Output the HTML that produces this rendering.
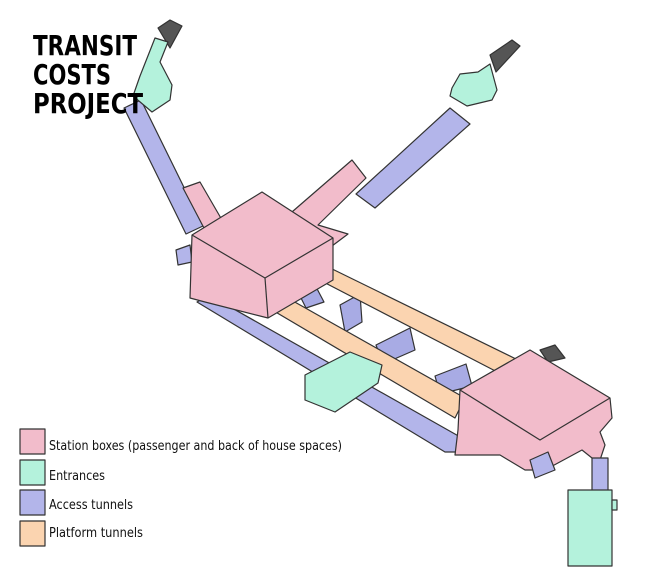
<!DOCTYPE html>
<html><head><meta charset="utf-8"><style>
html,body{margin:0;padding:0;background:#fff;}
svg{display:block;}
text{font-family:"DejaVu Sans Condensed","Liberation Sans",sans-serif;}
</style></head><body>
<svg width="655" height="578" viewBox="0 0 655 578" xmlns="http://www.w3.org/2000/svg">
<g stroke="#333" stroke-width="1.2" stroke-linejoin="round">
<!-- left access tunnel -->
<polygon points="124,108 141,100 203,226 186,234" fill="#b3b5ea"/>
<!-- right access tunnel -->
<polygon points="450,108 470,124 375,208 356,194" fill="#b3b5ea"/>
<!-- left entrance -->
<polygon points="158,28 170,20 182,26 170,48" fill="#555"/>
<polygon points="155,38 168,42 160,62 172,85 170,100 152,112 133,96 140,76" fill="#b4f2dc"/>
<!-- right entrance -->
<polygon points="490,55 512,40 520,46 496,72" fill="#555"/>
<polygon points="452,88 460,74 478,72 490,64 497,90 492,100 467,106 450,96" fill="#b4f2dc"/>
<!-- long lower blue tunnel -->
<polygon points="197,302 209,295 462,438 458,452 445,452" fill="#b3b5ea"/>
<!-- blue connectors -->
<polygon points="288,272 305,266 324,302 306,308" fill="#a8abe4"/>
<polygon points="340,305 360,294 362,322 345,332" fill="#a8abe4"/>
<polygon points="376,345 410,328 415,350 383,364" fill="#a8abe4"/>
<polygon points="435,376 466,364 472,386 440,394" fill="#a8abe4"/>
<!-- orange platform tunnels -->
<polygon points="308,274 322,264 518,360 505,376" fill="#fbd4b0"/>
<polygon points="262,304 277,292 465,398 455,418" fill="#fbd4b0"/>
<!-- upper station box -->
<polygon points="183,188 200,182 222,220 205,230" fill="#f2bccb"/>
<polygon points="285,218 352,160 366,178 318,225 348,234 332,246" fill="#f2bccb"/>
<polygon points="176,250 190,245 192,262 178,265" fill="#b3b5ea"/>
<polygon points="192,235 262,192 333,238 333,280 268,318 205,302 190,298" fill="#f2bccb"/>
<polyline points="192,235 265,278 333,238" fill="none"/>
<polyline points="265,278 268,318" fill="none"/>
<!-- middle entrance -->
<polygon points="305,375 350,352 382,365 378,383 335,412 305,400" fill="#b4f2dc"/>
<!-- lower station box -->
<polygon points="540,350 555,345 565,358 548,362" fill="#555"/>
<polygon points="460,390 530,350 610,398 612,418 600,432 605,445 600,460 592,458 582,450 545,470 525,470 500,455 455,455 458,430" fill="#f2bccb"/>
<polyline points="460,390 540,440 610,398" fill="none"/>
<polygon points="530,460 548,452 555,470 535,478" fill="#b3b5ea"/>
<polygon points="592,458 608,458 608,492 592,492" fill="#b3b5ea"/>
<polygon points="568,490 612,490 612,566 568,566" fill="#b4f2dc"/>
<rect x="612" y="500" width="5" height="10" fill="#b4f2dc"/>
<!-- legend -->
<rect x="20" y="429" width="25" height="25" fill="#f2bccb"/>
<rect x="20" y="460" width="25" height="25" fill="#b4f2dc"/>
<rect x="20" y="490" width="25" height="25" fill="#b3b5ea"/>
<rect x="20" y="521" width="25" height="25" fill="#fbd4b0"/>
</g>
<g font-size="13" fill="#111">
<text x="49" y="450" textLength="293" lengthAdjust="spacingAndGlyphs">Station boxes (passenger and back of house spaces)</text>
<text x="49" y="480" textLength="56" lengthAdjust="spacingAndGlyphs">Entrances</text>
<text x="49" y="509" textLength="84" lengthAdjust="spacingAndGlyphs">Access tunnels</text>
<text x="49" y="537" textLength="94" lengthAdjust="spacingAndGlyphs">Platform tunnels</text>
</g>
<g font-size="28" font-weight="bold" fill="#000">
<text x="33" y="55" textLength="104" lengthAdjust="spacingAndGlyphs">TRANSIT</text>
<text x="33" y="84" textLength="78" lengthAdjust="spacingAndGlyphs">COSTS</text>
<text x="33" y="113" textLength="110" lengthAdjust="spacingAndGlyphs">PROJECT</text>
</g>
</svg>
</body></html>
